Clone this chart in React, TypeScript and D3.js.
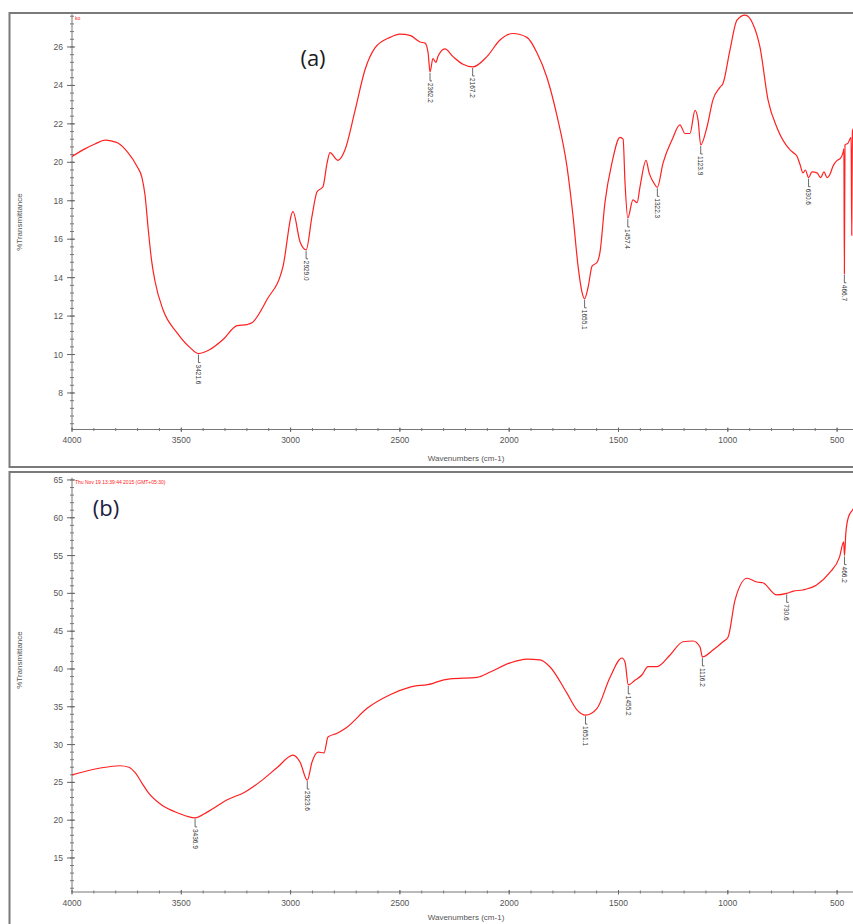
import React from "react";
import * as d3 from "d3";

// ---------- DATA ----------
// Panel (a): wavenumber (cm-1) and %Transmittance
const wnA = [4000, 3941, 3895, 3849, 3817, 3790, 3744, 3703, 3680, 3666, 3652, 3636, 3620, 3584, 3520, 3460, 3421.6, 3369, 3309, 3245, 3199, 3177, 3108, 3035, 2989, 2957, 2929, 2902, 2879, 2852, 2833, 2820, 2783, 2751, 2705, 2660, 2614, 2545, 2500, 2454, 2408, 2385, 2371, 2362.2, 2349, 2335, 2326, 2294, 2257, 2211, 2167.2, 2102, 2042, 1983, 1919, 1873, 1827, 1781, 1736, 1708, 1685, 1668, 1655.1, 1639, 1621, 1598, 1585, 1562, 1530, 1493, 1479, 1470, 1457.4, 1434, 1415, 1402, 1374, 1360, 1342, 1322.3, 1296, 1255, 1219, 1196, 1173, 1150, 1136, 1123.9, 1095, 1068, 1036, 1022, 990, 958, 921, 885, 853, 816, 775, 715, 700, 683, 670, 656, 645, 630.6, 615, 592, 575, 560, 546, 530, 519, 500, 485, 473, 469, 466.7, 464, 450, 436, 433, 430, 420, 400];
const tA = [20.3, 20.7, 20.95, 21.15, 21.1, 21.0, 20.5, 19.8, 19.2, 18.3, 16.6, 14.9, 13.8, 12.34, 11.14, 10.36, 10.05, 10.26, 10.78, 11.5, 11.56, 11.65, 12.86, 14.57, 17.43, 15.87, 15.45, 17.2, 18.47, 18.73, 19.97, 20.5, 20.1, 20.65, 22.7, 24.8, 25.95, 26.5, 26.67, 26.6, 26.26, 26.2, 25.7, 24.7, 25.4, 25.2, 25.5, 25.9, 25.5, 25.1, 24.96, 25.5, 26.36, 26.7, 26.5, 25.7, 24.4, 22.4, 19.8, 17.2, 14.6, 13.3, 12.9, 13.5, 14.6, 14.8, 15.3, 17.9, 19.97, 21.3, 21.2, 18.9, 17.1, 18.05, 17.9, 18.7, 20.1, 19.45, 19.0, 18.7, 19.97, 21.17, 21.95, 21.5, 21.5, 22.7, 22.2, 20.9, 21.85, 23.25, 23.9, 24.1, 25.85, 27.4, 27.66, 27.2, 26.0, 23.25, 21.8, 20.65, 20.5, 20.3, 19.9, 19.45, 19.6, 19.2, 19.5, 19.45, 19.2, 19.5, 19.2, 19.45, 19.8, 20.1, 20.2, 20.5, 20.7, 14.2, 20.9, 21.0, 21.3, 16.2, 21.6, 21.9, 22.5];
const peaksA = ["3421.6", "2929.0", "2362.2", "2167.2", "1655.1", "1457.4", "1322.3", "1123.9", "630.6", "466.7"];

// Panel (b)
const wnB = [4000, 3870, 3780, 3740, 3710, 3680, 3650, 3590, 3515, 3436.9, 3380, 3290, 3210, 3130, 3060, 2989, 2957, 2923.6, 2902, 2874, 2847, 2829, 2787, 2742, 2650, 2545, 2454, 2349, 2330, 2270, 2147, 2087, 1996, 1919, 1860, 1814, 1736, 1690, 1651.1, 1598, 1540, 1484, 1470, 1455.2, 1425, 1393, 1365, 1324, 1264, 1205, 1159, 1127, 1116.2, 1068, 1022, 999, 967, 912, 867, 840, 776, 730.6, 700, 658, 594, 535, 489, 470, 466.2, 460, 448, 430, 400];
const tB = [26.0, 26.9, 27.2, 27.0, 26.25, 24.9, 23.6, 22.0, 20.95, 20.3, 21.1, 22.7, 23.7, 25.3, 27.0, 28.6, 27.7, 25.3, 27.7, 29.0, 28.9, 31.0, 31.5, 32.3, 34.8, 36.6, 37.6, 38.1, 38.3, 38.7, 38.9, 39.6, 40.8, 41.3, 41.2, 40.3, 36.8, 34.6, 33.9, 34.8, 38.8, 41.45, 40.9, 37.9, 38.5, 39.2, 40.3, 40.3, 41.85, 43.6, 43.7, 42.9, 41.6, 42.5, 43.6, 44.2, 49.1, 52.0, 51.5, 51.4, 49.8, 50.0, 50.3, 50.45, 51.1, 52.7, 54.8, 56.8, 55.0, 58.0, 60.1, 61.0, 62.5];
const peaksB = ["3436.9", "2923.6", "1651.1", "1455.2", "1116.2", "730.6", "466.2"];

const xTicks = [4000, 3500, 3000, 2500, 2000, 1500, 1000, 500];
const yTicksA = [8, 10, 12, 14, 16, 18, 20, 22, 24, 26];
const yTicksB = [15, 20, 25, 30, 35, 40, 45, 50, 55, 60, 65];

const W = 853;
const H = 924;

type PanelProps = {
  wn: number[];
  t: number[];
  peaks: string[];
  yDomain: [number, number];
  yRange: [number, number];
  yTicks: number[];
  yMinor: number;
  frameTop: number;
  frameBottom: number;
  xLabelY: number;
  tickLabelY: number;
  yTitleY: number;
  stamp: string;
  tag: string;
  tagX: number;
  tagY: number;
  tagColor: string;
};

const x = d3.scaleLinear().domain([4000, 400]).range([72, 72 + 3600 * 0.2186]);

function Panel(p: PanelProps) {
  const y = d3.scaleLinear().domain(p.yDomain).range(p.yRange);
  const data = p.wn.map((w, i) => [w, p.t[i]] as [number, number]);
  const line = d3
    .line<[number, number]>()
    .x((d) => x(d[0]))
    .y((d) => y(d[1]))
    .curve(d3.curveMonotoneX);
  const axisY = p.yRange[0];
  const axisTop = p.yRange[1];
  const minorX = d3.range(4000, 399, -100);
  const minorY = d3.range(
    Math.ceil(p.yDomain[0] / p.yMinor) * p.yMinor,
    p.yDomain[1],
    p.yMinor
  );
  return (
    <g>
      <rect
        x={9.5}
        y={p.frameTop}
        width={900}
        height={p.frameBottom - p.frameTop}
        fill="none"
        stroke="#7a7a7a"
        strokeWidth={2}
      />
      {/* axes */}
      <line x1={72} x2={W} y1={axisY} y2={axisY} stroke="#777" strokeWidth={1} />
      <line x1={72} x2={72} y1={axisTop} y2={axisY} stroke="#777" strokeWidth={1} />
      {minorX.map((v) => (
        <line key={"mx" + v} x1={x(v)} x2={x(v)} y1={axisY - 1.5} y2={axisY + 1.5} stroke="#777" />
      ))}
      {xTicks.map((v) => (
        <g key={"x" + v}>
          <line x1={x(v)} x2={x(v)} y1={axisY - 2} y2={axisY + 2.5} stroke="#666" />
          <text
            x={x(v)}
            y={p.tickLabelY}
            textAnchor="middle"
            fontSize={8.5}
            fill="#555"
            fontFamily="Liberation Sans, Arial, sans-serif"
          >
            {v}
          </text>
        </g>
      ))}
      {minorY.map((v) => (
        <line key={"my" + v} x1={70} x2={74} y1={y(v)} y2={y(v)} stroke="#777" />
      ))}
      {p.yTicks.map((v) => (
        <g key={"y" + v}>
          <line x1={67} x2={75} y1={y(v)} y2={y(v)} stroke="#666" />
          <text
            x={63}
            y={y(v) + 3}
            textAnchor="end"
            fontSize={8.5}
            fill="#555"
            fontFamily="Liberation Sans, Arial, sans-serif"
          >
            {v}
          </text>
        </g>
      ))}
      <text
        x={466}
        y={p.xLabelY}
        textAnchor="middle"
        fontSize={8}
        fill="#555"
        fontFamily="Liberation Sans, Arial, sans-serif"
      >
        Wavenumbers (cm-1)
      </text>
      <text
        transform={`translate(22,${p.yTitleY}) rotate(-90)`}
        textAnchor="middle"
        fontSize={8}
        fill="#555"
        fontFamily="Liberation Sans, Arial, sans-serif"
      >
        %Transmittance
      </text>
      <text x={75} y={axisTop + 6} fontSize={5} fill="#ff2020" fontFamily="Liberation Sans, Arial, sans-serif">
        {p.stamp}
      </text>
      <text x={p.tagX} y={p.tagY} fontSize={22} fill={p.tagColor} fontFamily="Open Sans, Liberation Sans, sans-serif" textAnchor="middle">
        {p.tag}
      </text>
      {/* spectrum */}
      <path d={line(data) || ""} fill="none" stroke="#ff2020" strokeWidth={1.2} />
      {/* peak labels */}
      {p.peaks.map((lab) => {
        const w = parseFloat(lab);
        const i = p.wn.indexOf(w);
        const v = i >= 0 ? p.t[i] : 0;
        const px = x(w);
        const py = y(v);
        return (
          <g key={"pk" + lab}>
            <line x1={px} x2={px} y1={py + 1} y2={py + 9} stroke="#444" strokeWidth={0.8} />
            <line x1={px} x2={px + 2} y1={py + 9} y2={py + 9} stroke="#444" strokeWidth={0.8} />
            <text
              transform={`translate(${px - 2.5},${py + 11}) rotate(90)`}
              fontSize={6.5}
              fill="#333"
              fontFamily="Liberation Sans, Arial, sans-serif"
            >
              {lab}
            </text>
          </g>
        );
      })}
    </g>
  );
}

export default function App() {
  return (
    <svg
      width={W}
      height={H}
      style={{ position: "absolute", left: 0, top: 0, background: "#fff" }}
    >
      <rect x={0} y={0} width={W} height={H} fill="#fff" />
      <Panel
        wn={wnA}
        t={tA}
        peaks={peaksA}
        yDomain={[6.1, 27.7]}
        yRange={[429.5, 14.3]}
        yTicks={yTicksA}
        yMinor={0.4}
        frameTop={13}
        frameBottom={467}
        xLabelY={461}
        tickLabelY={443}
        yTitleY={222}
        stamp="ko"
        tag="(a)"
        tagX={313}
        tagY={66}
        tagColor="#1c1c1c"
      />
      <Panel
        wn={wnB}
        t={tB}
        peaks={peaksB}
        yDomain={[10.5, 65.3]}
        yRange={[892, 477.7]}
        yTicks={yTicksB}
        yMinor={1}
        frameTop={472}
        frameBottom={940}
        xLabelY={920}
        tickLabelY={906}
        yTitleY={660}
        stamp="Thu Nov 19 13:39:44 2015 (GMT+05:30)"
        tag="(b)"
        tagX={106}
        tagY={516}
        tagColor="#1e2040"
      />
    </svg>
  );
}
